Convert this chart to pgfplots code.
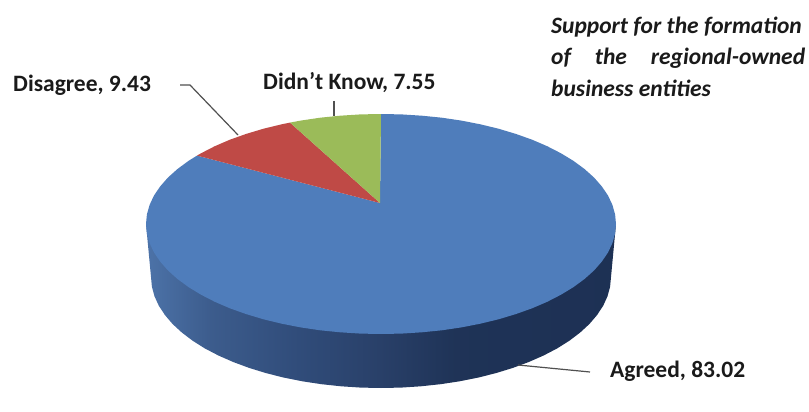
\documentclass[border=0pt]{standalone}
\usepackage{fontspec}
\setmainfont{Carlito}
\usepackage{pgfplots}
\pgfplotsset{compat=1.18}

\definecolor{agreed}{HTML}{4F7DBB}
\definecolor{disagree}{HTML}{BF4A46}
\definecolor{dontknow}{HTML}{9BBB59}
\definecolor{leader}{HTML}{505050}
\definecolor{ink}{HTML}{1A1A1A}
\newcommand{\labelfont}{\fontsize{23.5}{26}\selectfont\bfseries}
% wall of the pie: the path's width maps onto 25bp..75bp
\pgfdeclarehorizontalshading{wall}{100bp}{
  rgb(0bp)=(0.30,0.45,0.66);
  rgb(25bp)=(0.30,0.45,0.66);
  rgb(32bp)=(0.235,0.36,0.55);
  rgb(41bp)=(0.19,0.30,0.48);
  rgb(50bp)=(0.16,0.25,0.41);
  rgb(58bp)=(0.12,0.20,0.34);
  rgb(75bp)=(0.115,0.19,0.33);
  rgb(100bp)=(0.115,0.19,0.33)}

\begin{document}
\begin{tikzpicture}
\begin{axis}[
    scale only axis,
    width=809pt, height=412pt,
    xmin=0, xmax=809, ymin=0, ymax=412,
    y dir=reverse,
    axis lines=none,
    clip=false,
    nodes={font=\labelfont, text=ink, inner sep=0pt},
  ]
  \path[use as bounding box] (axis cs:0,0) rectangle (axis cs:809,412);
  % pie wall
  \addplot[draw=none, shading=wall] coordinates {
    (146,224) (151,277) (151.9,286.7) (154.5,296.3) (158.8,305.7) (164.9,315) (172.5,323.9)
    (181.8,332.5) (192.6,340.7) (204.8,348.4) (218.4,355.5) (233.2,362) (249.1,367.9)
    (266,373.1) (283.8,377.6) (302.3,381.3) (321.5,384.2) (341.1,386.3) (361,387.6) (381,388)
    (401,387.6) (420.9,386.3) (440.5,384.2) (459.7,381.3) (478.2,377.6) (496,373.1)
    (512.9,367.9) (528.8,362) (543.6,355.5) (557.2,348.4) (569.4,340.7) (580.2,332.5)
    (589.5,323.9) (597.1,315) (603.2,305.7) (607.5,296.3) (610.1,286.7) (611,277) (616,224)
  } -- cycle;
  % Agreed, 83.02
  \addplot[draw=none, fill=agreed] coordinates {
    (380,203) (381,114)
    (401.5,114.4) (421.8,115.7) (441.8,117.7) (461.4,120.6) (480.3,124.3) (498.5,128.7)
    (515.8,133.9) (532.1,139.7) (547.2,146.2) (561,153.3) (573.5,160.9) (584.5,169)
    (594,177.5) (601.8,186.4) (608,195.5) (612.4,204.9) (615.1,214.4) (616,224)
    (615.1,233.6) (612.4,243.1) (608,252.5) (601.8,261.6) (594,270.5) (584.5,279)
    (573.5,287.1) (561,294.7) (547.2,301.8) (532.1,308.3) (515.8,314.1) (498.5,319.3)
    (480.3,323.7) (461.4,327.4) (441.8,330.3) (421.8,332.3) (401.5,333.6) (381,334)
    (360.5,333.6) (340.2,332.3) (320.2,330.3) (300.6,327.4) (281.7,323.7) (263.5,319.3)
    (246.2,314.1) (229.9,308.3) (214.8,301.8) (201,294.7) (188.5,287.1) (177.5,279)
    (168,270.5) (160.2,261.6) (154,252.5) (149.6,243.1) (146.9,233.6) (146,224)
    (146.9,214.4) (149.6,204.9) (154,195.5) (160.2,186.4) (168,177.5) (177.5,169)
    (188.5,160.9) (197,155.6)
  } -- cycle;
  % Disagree, 9.43
  \addplot[draw=none, fill=disagree] coordinates {
    (380,203) (197,155.6) (201,153.3) (214.8,146.2) (229.9,139.7) (246.2,133.9)
    (263.5,128.7) (281.7,124.3) (290,122.6)
  } -- cycle;
  % Didn't Know, 7.55
  \addplot[draw=none, fill=dontknow] coordinates {
    (380,203) (290,122.6) (300.6,120.6) (320.2,117.7) (340.2,115.7) (360.5,114.4) (381,114)
  } -- cycle;
  % leader lines
  \addplot[leader, line width=1.2pt] coordinates {(180,85) (190,85) (238,135)};
  \addplot[leader, line width=1.2pt] coordinates {(334,101) (334,116)};
  \addplot[leader, line width=1.2pt] coordinates {(518,365) (590,372)};

  \node[anchor=base west] at (axis cs:13,92) {Disagree, 9.43};
  \node[anchor=base west] at (axis cs:263,89) {Didn’t Know, 7.55};
  \node[anchor=base west] at (axis cs:610,377) {Agreed, 83.02};
  \node[anchor=base west, font=\labelfont\itshape] at (axis cs:551,33.5) {Support for the formation};
  \node[anchor=base west, font=\labelfont\itshape] at (axis cs:551,64.5)
    {\makebox[254pt][s]{of\hfill the\hfill regional-owned}};
  \node[anchor=base west, font=\labelfont\itshape] at (axis cs:551,96) {business entities};
\end{axis}
\end{tikzpicture}
\end{document}
